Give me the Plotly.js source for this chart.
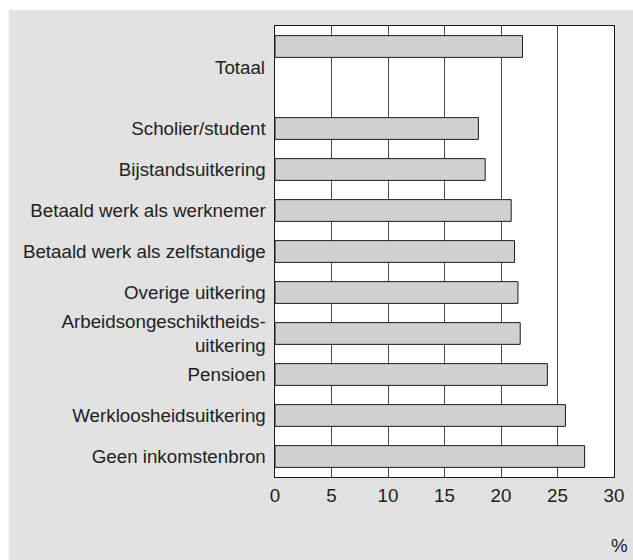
<!DOCTYPE html>
<html>
<head>
<meta charset="utf-8">
<script src="https://cdn.plot.ly/plotly-3.0.1.min.js"></script>
<style>html,body{margin:0;padding:0;background:#fff;}#chart{width:633px;height:560px;}</style>
</head>
<body>
<div id="chart"></div>
<script>
// Categories top to bottom; " " is the empty slot under "Totaal"
const categories = ["Totaal", " ", "Scholier/student", "Bijstandsuitkering",
  "Betaald werk als werknemer", "Betaald werk als zelfstandige", "Overige uitkering",
  "Arbeidsongeschiktheids-<br>uitkering", "Pensioen", "Werkloosheidsuitkering", "Geen inkomstenbron"];
const values = [21.9, null, 18.0, 18.6, 20.9, 21.2, 21.5, 21.7, 24.1, 25.7, 27.4];
const xTicks = [0, 5, 10, 15, 20, 25, 30];
const tickCategories = categories.slice(2);
const unitLabel = "%";
const totalLabel = "Totaal";

const FONT = '"Liberation Sans", Arial, Helvetica, sans-serif';
const FS = 18.75;

const trace = {
  type: 'bar',
  orientation: 'h',
  y: categories,
  x: values,
  width: 0.53,
  marker: {color: '#d0d1d3', line: {color: '#1a1a1a', width: 1}},
  hoverinfo: 'x+y'
};

const layout = {
  width: 633, height: 560,
  margin: {l: 275.3, r: 18.7, t: 26, b: 83},
  paper_bgcolor: '#e1e2e1',
  plot_bgcolor: '#ffffff',
  showlegend: false,
  font: {family: FONT, size: FS, color: '#222'},
  xaxis: {
    range: [0, 30],
    tickvals: xTicks,
    ticktext: xTicks.map(String),
    showgrid: true, gridcolor: '#4a4a4a', gridwidth: 1,
    zeroline: false,
    showline: true, mirror: true, linecolor: '#1a1a1a', linewidth: 1,
    ticks: 'outside', ticklen: 1, tickcolor: 'rgba(0,0,0,0)',
    tickfont: {family: FONT, size: FS, color: '#222'},
    fixedrange: true
  },
  yaxis: {
    type: 'category',
    categoryorder: 'array',
    categoryarray: categories,
    autorange: false,
    range: [categories.length - 0.5, -0.5],
    tickmode: 'array',
    tickvals: tickCategories,
    ticktext: tickCategories,
    showgrid: false, zeroline: false,
    showline: true, mirror: true, linecolor: '#1a1a1a', linewidth: 1,
    ticks: 'outside', ticklen: 4.5, tickcolor: 'rgba(0,0,0,0)',
    tickfont: {family: FONT, size: FS, color: '#222'},
    fixedrange: true
  },
  shapes: [
    {type: 'rect', xref: 'paper', yref: 'paper', x0: -0.9, x1: 1.2, y0: 1.0355, y1: 1.2,
     fillcolor: '#ffffff', line: {width: 0}, layer: 'above'},
    {type: 'rect', xref: 'paper', yref: 'paper', x0: -0.9, x1: -0.7855, y0: -0.3, y1: 1.2,
     fillcolor: '#ffffff', line: {width: 0}, layer: 'above'}
  ],
  annotations: [
    {text: totalLabel, xref: 'paper', yref: 'y', x: 0, y: 0.5, xanchor: 'right', yanchor: 'middle',
     xshift: -8, showarrow: false, font: {family: FONT, size: FS, color: '#222'}},
    {text: unitLabel, xref: 'paper', yref: 'paper', x: 1.0168, y: -0.151, xanchor: 'center', yanchor: 'middle',
     showarrow: false, font: {family: FONT, size: FS, color: '#222'}}
  ]
};

Plotly.newPlot('chart', [trace], layout, {displayModeBar: false, staticPlot: true});
</script>
</body>
</html>
